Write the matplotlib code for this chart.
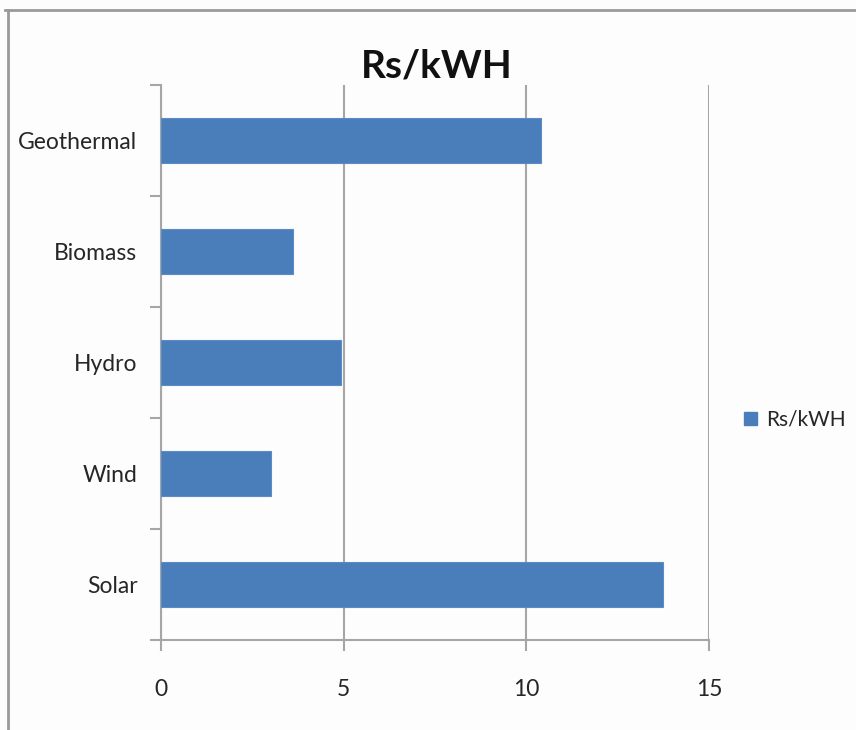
import matplotlib
matplotlib.use("Agg")
import matplotlib.pyplot as plt
from matplotlib.lines import Line2D
from matplotlib.patches import Patch

# Cost of electricity by source (Rs per kWh)
categories = ["Solar", "Wind", "Hydro", "Biomass", "Geothermal"]
values = [13.75, 3.0, 4.92, 3.6, 10.4]
series_name = "Rs/kWH"
x_ticks = [0, 5, 10, 15]

bar_color = "#4A7EBB"
grid_color = "#A6A6A6"
text_color = "#262626"

plt.rcParams["font.family"] = ["Lato", "DejaVu Sans"]

fig = plt.figure(figsize=(8.56, 7.30), dpi=100, facecolor="#FDFDFD")
ax = fig.add_axes([161 / 856, 1 - 640 / 730, (709 - 161) / 856, (640 - 85) / 730])
ax.set_facecolor("#FDFDFD")

positions = list(range(len(categories)))
ax.barh(positions, values, height=0.4, color=bar_color, edgecolor="#5B8CC8",
        linewidth=0.8, zorder=3, label=series_name)

ax.set_xlim(0, 15)
ax.set_ylim(-0.5, len(categories) - 0.5)
ax.set_xticks(x_ticks)
ax.set_xticklabels([str(t) for t in x_ticks])
ax.set_yticks(positions)
ax.set_yticklabels(categories)
ax.set_yticks([p - 0.5 for p in positions] + [len(categories) - 0.5], minor=True)

ax.xaxis.grid(True, color=grid_color, linewidth=1.5, zorder=0)
ax.yaxis.grid(False)

for side in ("top", "right"):
    ax.spines[side].set_visible(False)
for side in ("left", "bottom"):
    ax.spines[side].set_color(grid_color)
    ax.spines[side].set_linewidth(1.5)

ax.tick_params(axis="x", direction="out", length=8, width=1.5, color=grid_color,
               labelsize=16.5, labelcolor=text_color, pad=20)
ax.tick_params(axis="y", which="major", length=0, labelsize=16.5,
               labelcolor=text_color, pad=17)
ax.tick_params(axis="y", which="minor", direction="out", length=8, width=1.5,
               color=grid_color)

fig.text(437 / 856, 1 - 66 / 730, series_name, ha="center", va="center",
         fontsize=28, fontweight="bold", color="#111111")

handle = Patch(facecolor=bar_color, edgecolor=bar_color)
fig.legend([handle], [series_name], loc="center left",
           bbox_to_anchor=(744 / 856, 1 - 420 / 730), frameon=False,
           borderpad=0, borderaxespad=0,
           fontsize=15, handlelength=0.6, handleheight=0.6,
           handletextpad=0.45, labelcolor=text_color)

# Outer frame edges
fig.add_artist(Line2D([5 / 856, 1], [1 - 10 / 730, 1 - 10 / 730],
                      transform=fig.transFigure, color="#9A9A9A", linewidth=2))
fig.add_artist(Line2D([8 / 856, 8 / 856], [0, 1 - 10 / 730],
                      transform=fig.transFigure, color="#9A9A9A", linewidth=2))

fig.savefig("out.png", dpi=100, facecolor=fig.get_facecolor())
